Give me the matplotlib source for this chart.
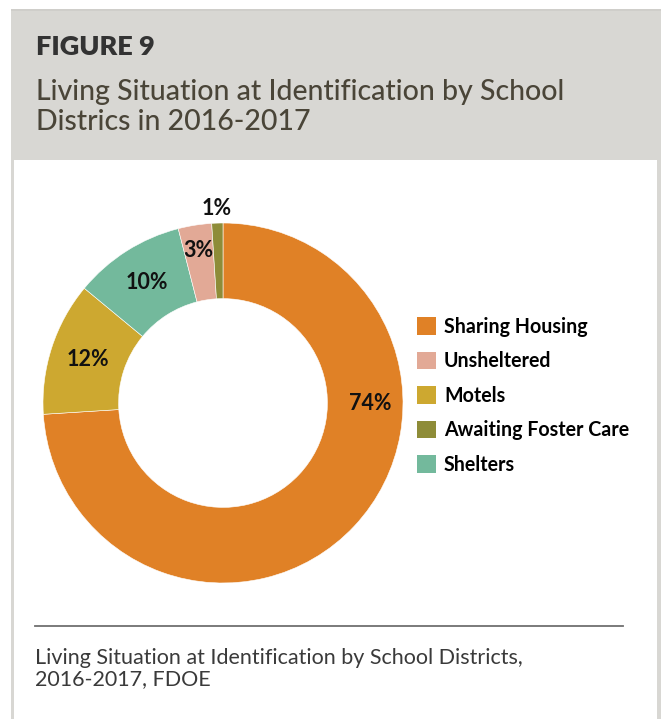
import matplotlib.pyplot as plt
from matplotlib.patches import Rectangle, Patch
from matplotlib.lines import Line2D
import numpy as np

# --- data ---
categories = ["Sharing Housing", "Motels", "Shelters", "Unsheltered", "Awaiting Foster Care"]
values = [74, 12, 10, 3, 1]
colors = ["#e08126", "#cda830", "#73b99c", "#e2a996", "#8e8c38"]
legend_order = ["Sharing Housing", "Unsheltered", "Motels", "Awaiting Foster Care", "Shelters"]

# label placement (radius, angle override in degrees or None)
label_dist = [0.82, 0.79, 0.79, 0.86, 1.08]
label_angle = [0, None, None, None, None]

W, H = 661, 719
plt.rcParams['font.family'] = ['Lato', 'DejaVu Sans']
fig = plt.figure(figsize=(W / 100, H / 100), dpi=100)
fig.patch.set_facecolor("white")

def px(x, y):
    return x / W, 1 - y / H

# frame + header
frame_col = "#d8d7d3"
fig.patches.append(Rectangle(px(11, 719), 3 / W, 710 / H, transform=fig.transFigure,
                             facecolor=frame_col, edgecolor="none"))
fig.patches.append(Rectangle(px(657, 719), 4 / W, 710 / H, transform=fig.transFigure,
                             facecolor=frame_col, edgecolor="none"))
fig.patches.append(Rectangle(px(11, 160), 650 / W, 151 / H, transform=fig.transFigure,
                             facecolor=frame_col, edgecolor="none"))
fig.patches.append(Rectangle(px(11, 11), 650 / W, 2 / H, transform=fig.transFigure,
                             facecolor="#cfceca", edgecolor="none"))

fig.text(*px(36, 47), "FIGURE 9", fontsize=19.5, fontweight="heavy", color="#333333",
         va="center", ha="left")
fig.text(*px(36, 92), "Living Situation at Identification by School", fontsize=20.5,
         fontweight="medium", color="#4a4538", va="center", ha="left")
fig.text(*px(36, 122), "Districs in 2016-2017", fontsize=20.5,
         fontweight="medium", color="#4a4538", va="center", ha="left")

# donut
R = 180
cx, cy = 223, 403
lim = 1.2
ax = fig.add_axes([(cx - lim * R) / W, 1 - (cy + lim * R) / H, 2 * lim * R / W, 2 * lim * R / H])
wedges, _ = ax.pie(values, colors=colors, startangle=90, counterclock=False, radius=1,
                   wedgeprops=dict(width=0.42, edgecolor="white", linewidth=0.4))
for w, v, d, a in zip(wedges, values, label_dist, label_angle):
    deg = (w.theta1 + w.theta2) / 2 if a is None else a
    ang = np.deg2rad(deg)
    ax.text(d * np.cos(ang), d * np.sin(ang), f"{v}%", ha="center", va="center",
            fontsize=15.5, fontweight="bold", color="#111111")
ax.set_xlim(-lim, lim)
ax.set_ylim(-lim, lim)
ax.set_aspect("equal")
ax.axis("off")

# legend
handles = [Patch(facecolor=colors[categories.index(c)], edgecolor="none") for c in legend_order]
fig.legend(handles, legend_order, loc="upper left", bbox_to_anchor=px(399, 299),
           frameon=False, handlelength=1.0, handleheight=1.0,
           handletextpad=0.4, labelspacing=0.74, prop=dict(weight="bold", size=14.1))

# source line + note
fig.add_artist(Line2D([35 / W, 623 / W], [1 - 626 / H, 1 - 626 / H], transform=fig.transFigure,
                      color="#6f6f6f", linewidth=1.3))
fig.text(*px(35, 668.5), "Living Situation at Identification by School Districts,\n2016-2017, FDOE",
         fontsize=15.5, fontweight="normal", color="#3a3a3a", va="center", ha="left",
         linespacing=1.05)

fig.savefig("out.png", dpi=100)
